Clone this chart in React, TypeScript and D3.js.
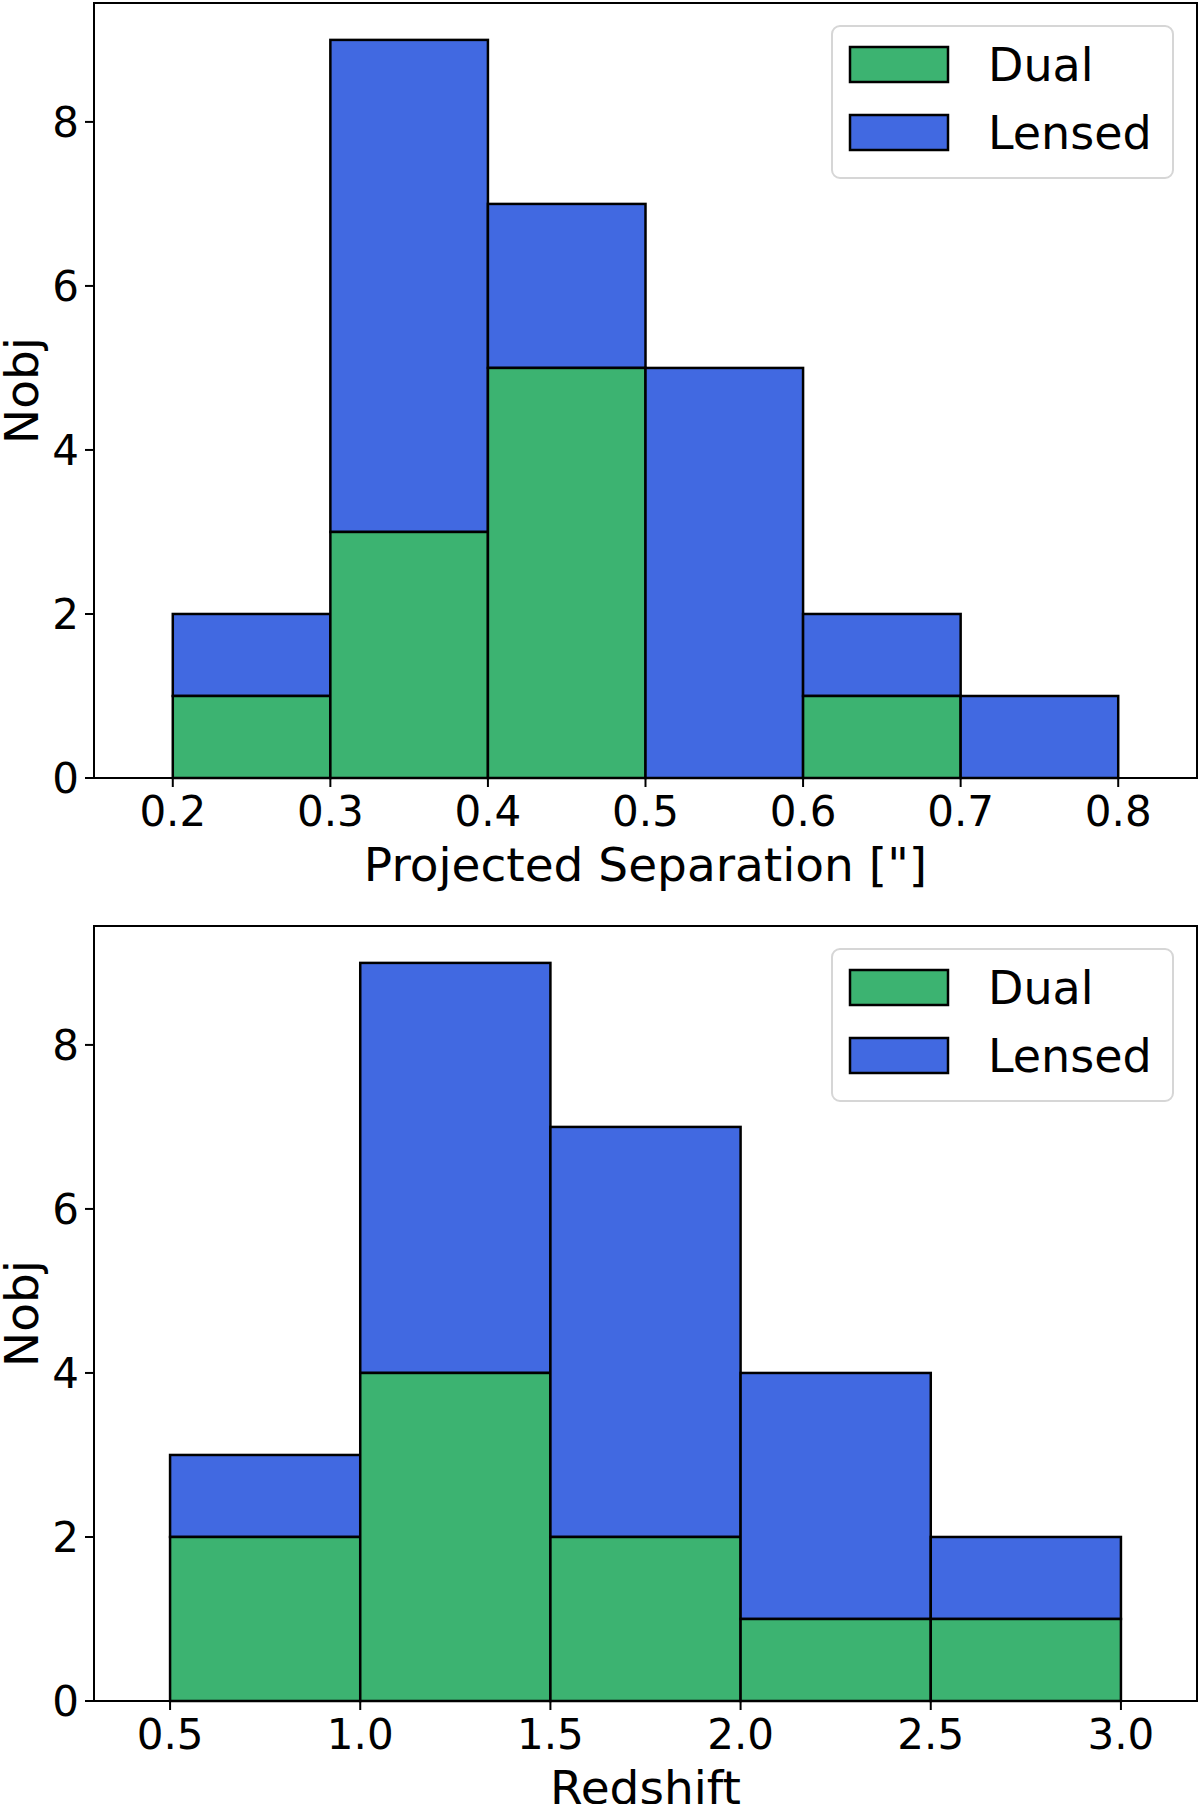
import React from 'react'
import * as d3 from 'd3'

// histogram data
const sepEdges = [0.2, 0.3, 0.4, 0.5, 0.6, 0.7, 0.8]
const sepDual = [1, 3, 5, 0, 1, 0]
const sepLensed = [1, 6, 2, 5, 1, 1]
const sepTicks = [0.2, 0.3, 0.4, 0.5, 0.6, 0.7, 0.8]

const zEdges = [0.5, 1.0, 1.5, 2.0, 2.5, 3.0]
const zDual = [2, 4, 2, 1, 1]
const zLensed = [1, 5, 5, 3, 1]
const zTicks = [0.5, 1.0, 1.5, 2.0, 2.5, 3.0]

const yTicks = [0, 2, 4, 6, 8]
const legendLabels = ['Dual', 'Lensed']

const GREEN = '#3CB371'
const BLUE = '#4169E1'
const FONT = 'DejaVu Sans, sans-serif'

type PanelProps = {
  top: number
  edges: number[]
  dual: number[]
  lensed: number[]
  ticks: number[]
  xDomain: [number, number]
  xLabel: string
  tickFmt: (d: number) => string
}

function Panel({ top, edges, dual, lensed, ticks, xDomain, xLabel, tickFmt }: PanelProps) {
  const left = 94
  const right = 1197
  const h = 775
  const bottom = top + h

  const x = d3.scaleLinear().domain(xDomain).range([left, right])
  const y = d3.scaleLinear().domain([0, 9.45]).range([bottom, top])

  const bins = dual.map((d, i) => ({ x0: edges[i], x1: edges[i + 1], dual: d, total: d + lensed[i] }))

  return (
    <g>
      {bins.map((b, i) => (
        <g key={i}>
          <rect x={x(b.x0)} width={x(b.x1) - x(b.x0)} y={y(b.total)} height={y(b.dual) - y(b.total)}
            fill={BLUE} stroke="#000" strokeWidth={2.5} />
          <rect x={x(b.x0)} width={x(b.x1) - x(b.x0)} y={y(b.dual)} height={y(0) - y(b.dual)}
            fill={GREEN} stroke="#000" strokeWidth={2.5} />
        </g>
      ))}
      <rect x={left} y={top} width={right - left} height={h} fill="none" stroke="#000" strokeWidth={2} />

      {yTicks.map(t => (
        <g key={t}>
          <line x1={left - 9} x2={left} y1={y(t)} y2={y(t)} stroke="#000" strokeWidth={2} />
          <text x={left - 15} y={y(t)} dy="0.36em" textAnchor="end" fontSize={42} fontFamily={FONT}>{t}</text>
        </g>
      ))}
      {ticks.map(t => (
        <g key={t}>
          <line x1={x(t)} x2={x(t)} y1={bottom} y2={bottom + 9} stroke="#000" strokeWidth={2} />
          <text x={x(t)} y={bottom + 48} textAnchor="middle" fontSize={42} fontFamily={FONT}>{tickFmt(t)}</text>
        </g>
      ))}

      <text x={(left + right) / 2} y={bottom + 103} textAnchor="middle" fontSize={47} fontFamily={FONT}>{xLabel}</text>
      <text transform={`translate(${38},${(top + bottom) / 2}) rotate(-90)`} textAnchor="middle" fontSize={47} fontFamily={FONT}>Nobj</text>

      <g transform={`translate(0,${top - 3})`}>
        <rect x={832} y={26} width={341} height={152} rx={8} fill="#fff" fillOpacity={0.8} stroke="#d6d6d6" strokeWidth={2} />
        {legendLabels.map((l, i) => (
          <g key={l}>
            <rect x={850} y={47 + i * 68} width={98} height={35} fill={i === 0 ? GREEN : BLUE} stroke="#000" strokeWidth={2.5} />
            <text x={988} y={81 + i * 68} fontSize={46} fontFamily={FONT}>{l}</text>
          </g>
        ))}
      </g>
    </g>
  )
}

export default function App() {
  return (
    <svg width={1200} height={1804} style={{ position: 'absolute', left: 0, top: 0, background: '#fff' }}>
      <Panel top={3} edges={sepEdges} dual={sepDual} lensed={sepLensed} ticks={sepTicks}
        xDomain={[0.15, 0.85]} xLabel={'Projected Separation ["]'} tickFmt={d3.format('.1f')} />
      <Panel top={926} edges={zEdges} dual={zDual} lensed={zLensed} ticks={zTicks}
        xDomain={[0.3, 3.2]} xLabel="Redshift" tickFmt={d3.format('.1f')} />
    </svg>
  )
}
